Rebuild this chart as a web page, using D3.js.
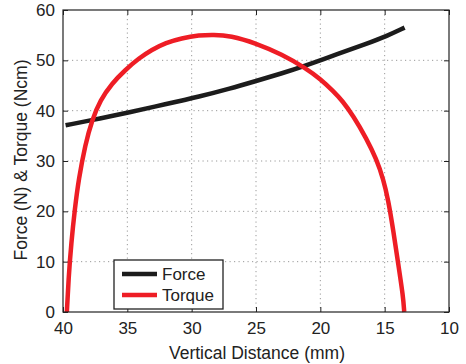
<!DOCTYPE html>
<meta charset="utf-8">
<script src="https://d3js.org/d3.v7.min.js"></script>
<style>
body { margin: 0; background: #fff; }
text { font-family: "Liberation Sans", Arial, sans-serif; fill: #222; }
.grid line { stroke: #999; stroke-dasharray: 1.2 3.3; stroke-width: 1; }
</style>
<body>
<div id="chart"></div>
</body>
<script>
// values: [distance mm, value]
const forceData = [
  [39.8, 37.1], [37, 38.5], [35, 39.6], [32, 41.3], [29.4, 42.8], [27, 44.4],
  [25, 45.9], [23, 47.4], [21.3, 48.8], [18.5, 51.4], [16.5, 53.2], [14.85, 54.8], [13.45, 56.5]
];
const torqueData = [
  [39.7, 0], [39.56, 7], [39.36, 13.6], [39.09, 20.3], [38.78, 26.4], [38.27, 33.3],
  [37.75, 38.1], [37.1, 42.1], [36.2, 45.4], [35.16, 48.1], [34.1, 50.4], [33.1, 52.1],
  [32.0, 53.5], [30.8, 54.4], [29.4, 55.0], [28.3, 55.1], [27, 54.9], [25, 53.4],
  [23, 51.2], [21.1, 48.4], [20, 46.3], [19, 43.9], [18.3, 42.0], [17.45, 39.0], [16.4, 34.4],
  [15.65, 30.4], [15.1, 26.4], [14.72, 22.2], [14.33, 16.2], [13.95, 9.6], [13.56, 3], [13.48, 0]
];
const xTicks = [40, 35, 30, 25, 20, 15, 10];
const yTicks = [0, 10, 20, 30, 40, 50, 60];
const seriesNames = ["Force", "Torque"];
const seriesColors = ["#1c1c1c", "#ee1d25"];

const W = 466, H = 364;
const margin = {top: 10, right: 17, bottom: 52, left: 63};
const width = W - margin.left - margin.right,
      height = H - margin.top - margin.bottom;

const svg = d3.select("#chart").append("svg")
  .attr("width", W).attr("height", H);
const g = svg.append("g")
  .attr("transform", `translate(${margin.left},${margin.top})`);

const x = d3.scaleLinear().domain([40, 10]).range([0, width]);
const y = d3.scaleLinear().domain([0, 60]).range([height, 0]);

// grid
g.append("g").attr("class", "grid")
  .selectAll("line").data(xTicks.slice(1, -1)).join("line")
  .attr("x1", d => x(d)).attr("x2", d => x(d))
  .attr("y1", 0).attr("y2", height);
g.append("g").attr("class", "grid")
  .selectAll("line").data(yTicks.slice(1, -1)).join("line")
  .attr("y1", d => y(d)).attr("y2", d => y(d))
  .attr("x1", 0).attr("x2", width);

// axes, ticks pointing inward like matlab
function styleAxis(sel) {
  sel.select(".domain").remove();
  sel.selectAll(".tick line").attr("stroke", "#222");
  sel.selectAll(".tick text").attr("font-size", 17).attr("fill", "#222");
}
g.append("g").attr("transform", `translate(0,${height})`)
  .call(d3.axisBottom(x).tickValues(xTicks).tickSize(-5).tickPadding(10))
  .call(styleAxis);
g.append("g")
  .call(d3.axisTop(x).tickValues(xTicks).tickSize(-5).tickFormat(""))
  .call(styleAxis);
g.append("g")
  .call(d3.axisLeft(y).tickValues(yTicks).tickSize(-5).tickPadding(8))
  .call(styleAxis);
g.append("g").attr("transform", `translate(${width},0)`)
  .call(d3.axisRight(y).tickValues(yTicks).tickSize(-5).tickFormat(""))
  .call(styleAxis);

// curves (b-spline to smooth out reading noise)
const line = d3.line()
  .x(d => x(d[0])).y(d => y(d[1]))
  .curve(d3.curveBasis);

g.append("path").datum(forceData)
  .attr("fill", "none").attr("stroke", seriesColors[0])
  .attr("stroke-width", 4.5).attr("d", line);
g.append("path").datum(torqueData)
  .attr("fill", "none").attr("stroke", seriesColors[1])
  .attr("stroke-width", 4.5).attr("d", line);

// frame
g.append("rect").attr("width", width).attr("height", height)
  .attr("fill", "none").attr("stroke", "#222").attr("stroke-width", 1.2);

// labels
svg.append("text")
  .attr("x", margin.left + width / 2 + 1).attr("y", H - 5)
  .attr("text-anchor", "middle").attr("font-size", 17.5)
  .text("Vertical Distance (mm)");
svg.append("text")
  .attr("transform", `translate(27,${margin.top + height / 2 - 1}) rotate(-90)`)
  .attr("text-anchor", "middle").attr("font-size", 17.5)
  .text("Force (N) & Torque (Ncm)");

// legend
const lg = svg.append("g").attr("transform", "translate(114,260)");
lg.append("rect").attr("width", 109).attr("height", 49)
  .attr("fill", "#fff").attr("stroke", "#222").attr("stroke-width", 1.3);
seriesNames.forEach((name, i) => {
  const yy = 14 + i * 21;
  lg.append("line").attr("x1", 8).attr("x2", 43)
    .attr("y1", yy).attr("y2", yy)
    .attr("stroke", seriesColors[i]).attr("stroke-width", 4.5);
  lg.append("text").attr("x", 48).attr("y", yy + 6)
    .attr("font-size", 17).text(name);
});
</script>
